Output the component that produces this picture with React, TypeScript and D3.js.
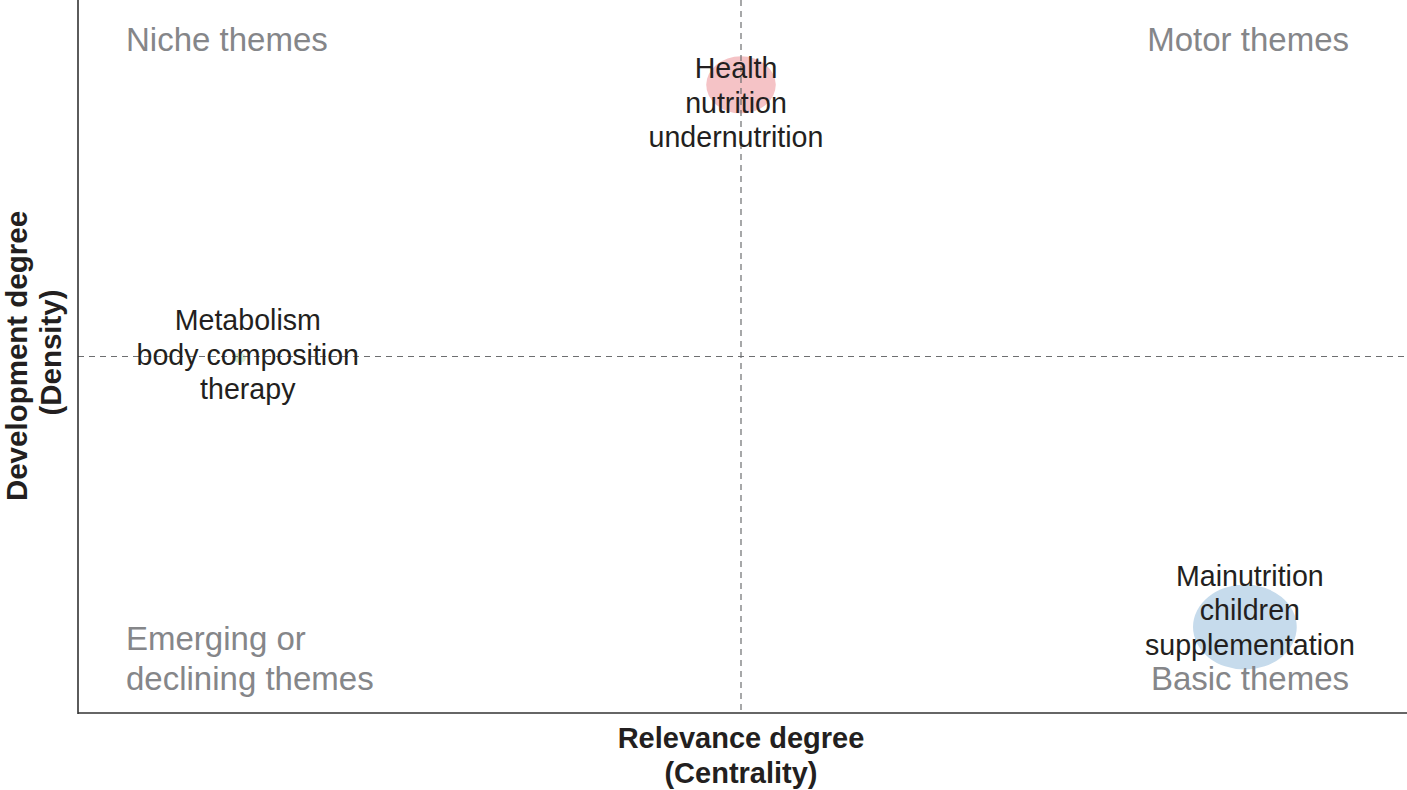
import React from "react";
import * as d3 from "d3";

// ---- data ----
const themes = ["Health", "Metabolism", "Mainutrition"];
const labelLines = [
  ["Health", "nutrition", "undernutrition"],
  ["Metabolism", "body composition", "therapy"],
  ["Mainutrition", "children", "supplementation"],
];
const centrality = [0.0, -0.756, 0.76];
const density = [0.762, -0.004, -0.759];
const frequency = [45, 1.4, 100];
const bubbleColors = ["#f5c3c6", "#d6ecd2", "#c6dbec"];
const quadrantNames = ["Niche themes", "Motor themes", "Emerging or\ndeclining themes", "Basic themes"];
const xTitle = ["Relevance degree", "(Centrality)"];
const yTitle = ["Development degree", "(Density)"];

const W = 1407;
const H = 790;
const left = 78;
const right = 1404;
const top = 0;
const bottom = 713;

// label vertical offsets (px) of middle line relative to bubble centre
const labelDy = [18, -3, -17];
const labelDx = [-5, 8, 5];

export default function App() {
  React.useEffect(() => {
    document.body.style.margin = "0";
  }, []);
  const x = d3.scaleLinear().domain([-1, 1]).range([left, right]);
  const y = d3.scaleLinear().domain([-1, 1]).range([bottom, top]);
  const r = d3.scaleSqrt().domain([0, 100]).range([0, 42.5]);
  const stretch = 1.22;
  const font = "'Liberation Sans', Arial, Helvetica, sans-serif";
  const qColor = "#858689";
  const lineH = 34.5;

  return (
    <svg width={W} height={H} style={{ display: "block", position: "absolute", left: 0, top: 0 }} fontFamily={font}>
      <rect width={W} height={H} fill="#ffffff" />
      {/* bubbles */}
      {themes.map((t, i) => (
        <ellipse
          key={t}
          cx={x(centrality[i])}
          cy={y(density[i])}
          rx={r(frequency[i]) * stretch}
          ry={r(frequency[i])}
          fill={bubbleColors[i]}
        />
      ))}
      {/* dashed median lines */}
      <line x1={x(0)} x2={x(0)} y1={top} y2={bottom} stroke="#6d6e70" strokeWidth={1.2} strokeDasharray="6,5" />
      <line x1={left} x2={W} y1={y(0)} y2={y(0)} stroke="#6d6e70" strokeWidth={1.2} strokeDasharray="6,5" />
      {/* axes */}
      <line x1={left} x2={left} y1={top} y2={bottom + 1} stroke="#333" strokeWidth={1.6} />
      <line x1={left} x2={W} y1={bottom} y2={bottom} stroke="#333" strokeWidth={1.6} />
      {/* quadrant names */}
      <g fill={qColor} fontSize={33}>
        <text x={126} y={51}>{quadrantNames[0]}</text>
        <text x={1349} y={51} textAnchor="end">{quadrantNames[1]}</text>
        {quadrantNames[2].split("\n").map((s, k) => (
          <text key={k} x={126} y={650 + k * 40}>{s}</text>
        ))}
        <text x={1349} y={690} textAnchor="end">{quadrantNames[3]}</text>
      </g>
      {/* theme labels */}
      <g fill="#231f20" fontSize={28.6} textAnchor="middle">
        {themes.map((t, i) => (
          <g key={t}>
            {labelLines[i].map((s, k) => (
              <text
                key={k}
                x={x(centrality[i]) + labelDx[i]}
                y={y(density[i]) + labelDy[i] + (k - 1) * lineH}
                dy="0.35em"
              >
                {s}
              </text>
            ))}
          </g>
        ))}
      </g>
      {/* axis titles */}
      <g fill="#231f20" fontWeight="bold" textAnchor="middle">
        <text x={x(0)} y={748} fontSize={29}>{xTitle[0]}</text>
        <text x={x(0)} y={783} fontSize={29}>{xTitle[1]}</text>
        <text fontSize={29.5} transform={`translate(27,${y(0) - 0.5}) rotate(-90)`}>{yTitle[0]}</text>
        <text fontSize={29.5} transform={`translate(61,${y(0) - 4}) rotate(-90)`}>{yTitle[1]}</text>
      </g>
    </svg>
  );
}
